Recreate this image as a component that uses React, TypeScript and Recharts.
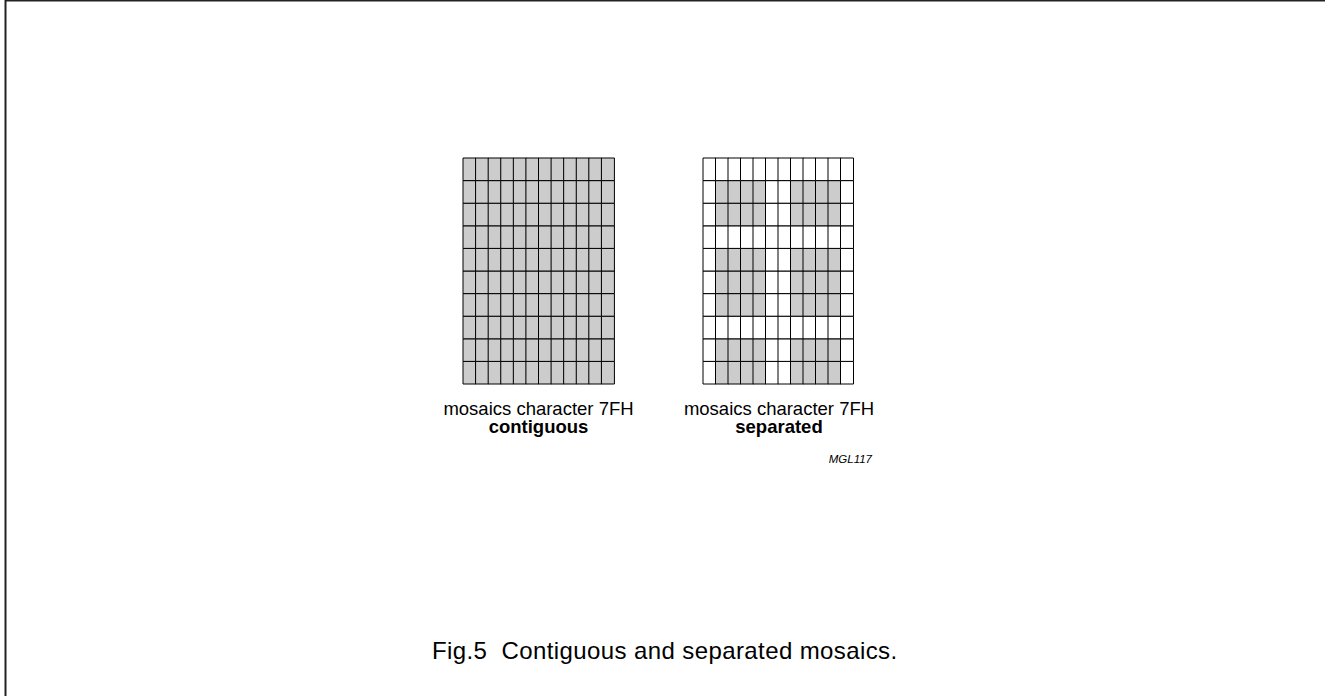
import React from 'react';
import { BarChart, Bar, XAxis, YAxis, Cell } from 'recharts';

// 7FH mosaic: 12 pixel columns x 10 pixel rows (rows listed top to bottom)
const columns = ['1', '2', '3', '4', '5', '6', '7', '8', '9', '10', '11', '12'];
const rowKeys = ['r1', 'r2', 'r3', 'r4', 'r5', 'r6', 'r7', 'r8', 'r9', 'r10'];
const cellValue = 1;

const contiguousColumnMask = [1, 1, 1, 1, 1, 1, 1, 1, 1, 1, 1, 1];
const contiguousRowMask = [1, 1, 1, 1, 1, 1, 1, 1, 1, 1];

const separatedColumnMask = [0, 1, 1, 1, 1, 0, 0, 1, 1, 1, 1, 0];
const separatedRowMask = [0, 1, 1, 0, 1, 1, 1, 0, 1, 1];

const labelTop = 'mosaics character 7FH';
const contiguousLabel = 'contiguous';
const separatedLabel = 'separated';
const codeLabel = 'MGL117';
const caption = 'Fig.5\u00a0\u00a0Contiguous and separated mosaics.';

const ON = '#cccccc';
const OFF = '#ffffff';
const FONT = '"Liberation Sans", Arial, Helvetica, sans-serif';

const buildData = () =>
  columns.map((c) => {
    const row: Record<string, string | number> = { col: c };
    rowKeys.forEach((k) => {
      row[k] = cellValue;
    });
    return row;
  });

type GridProps = { colMask: number[]; rowMask: number[]; left: number; top: number; w: number; h: number };

const MosaicGrid = ({ colMask, rowMask, left, top, w, h }: GridProps) => {
  const data = buildData();
  // stack from bottom: bottom row first
  const stackOrder = [...rowKeys].map((k, i) => ({ k, i })).reverse();
  return (
    <div style={{ position: 'absolute', left: left - 1, top: top - 1 }}>
      <BarChart
        width={w + 2}
        height={h + 2}
        data={data}
        margin={{ top: 1, right: 1, bottom: 1, left: 1 }}
        barCategoryGap={0}
        barGap={0}
      >
        <XAxis dataKey="col" hide type="category" />
        <YAxis hide domain={[0, rowKeys.length]} type="number" />
        {stackOrder.map(({ k, i }) => (
          <Bar
            key={k}
            dataKey={k}
            stackId="m"
            stroke="#000"
            strokeWidth={1}
            isAnimationActive={false}
          >
            {data.map((d, ci) => (
              <Cell key={ci} fill={colMask[ci] && rowMask[i] ? ON : OFF} />
            ))}
          </Bar>
        ))}
      </BarChart>
    </div>
  );
};

export default function App() {
  return (
    <div
      style={{
        position: 'absolute',
        left: 0,
        top: 0,
        width: 1325,
        height: 696,
        background: '#fff',
        overflow: 'hidden',
      }}
    >
      <MosaicGrid colMask={contiguousColumnMask} rowMask={contiguousRowMask} left={463} top={158} w={151} h={226} />
      <MosaicGrid colMask={separatedColumnMask} rowMask={separatedRowMask} left={703} top={158} w={150} h={226} />
      <svg
        width={1325}
        height={696}
        style={{ position: 'absolute', left: 0, top: 0, pointerEvents: 'none' }}
      >
        <line x1={5.5} y1={0} x2={5.5} y2={696} stroke="#222" strokeWidth={2} />
        <line x1={5} y1={0.5} x2={1325} y2={0.5} stroke="#222" strokeWidth={2} />
        <g fontFamily={FONT} fill="#000">
          <text x={538.5} y={415} fontSize={18.5} textAnchor="middle">{labelTop}</text>
          <text x={538.5} y={433} fontSize={18.5} fontWeight="bold" textAnchor="middle">{contiguousLabel}</text>
          <text x={779} y={415} fontSize={18.5} textAnchor="middle">{labelTop}</text>
          <text x={779} y={433} fontSize={18.5} fontWeight="bold" textAnchor="middle">{separatedLabel}</text>
          <text x={872} y={463} fontSize={11.5} fontStyle="italic" textAnchor="end">{codeLabel}</text>
          <text x={432} y={659} fontSize={24} letterSpacing={0.4}>{caption}</text>
        </g>
      </svg>
    </div>
  );
}
